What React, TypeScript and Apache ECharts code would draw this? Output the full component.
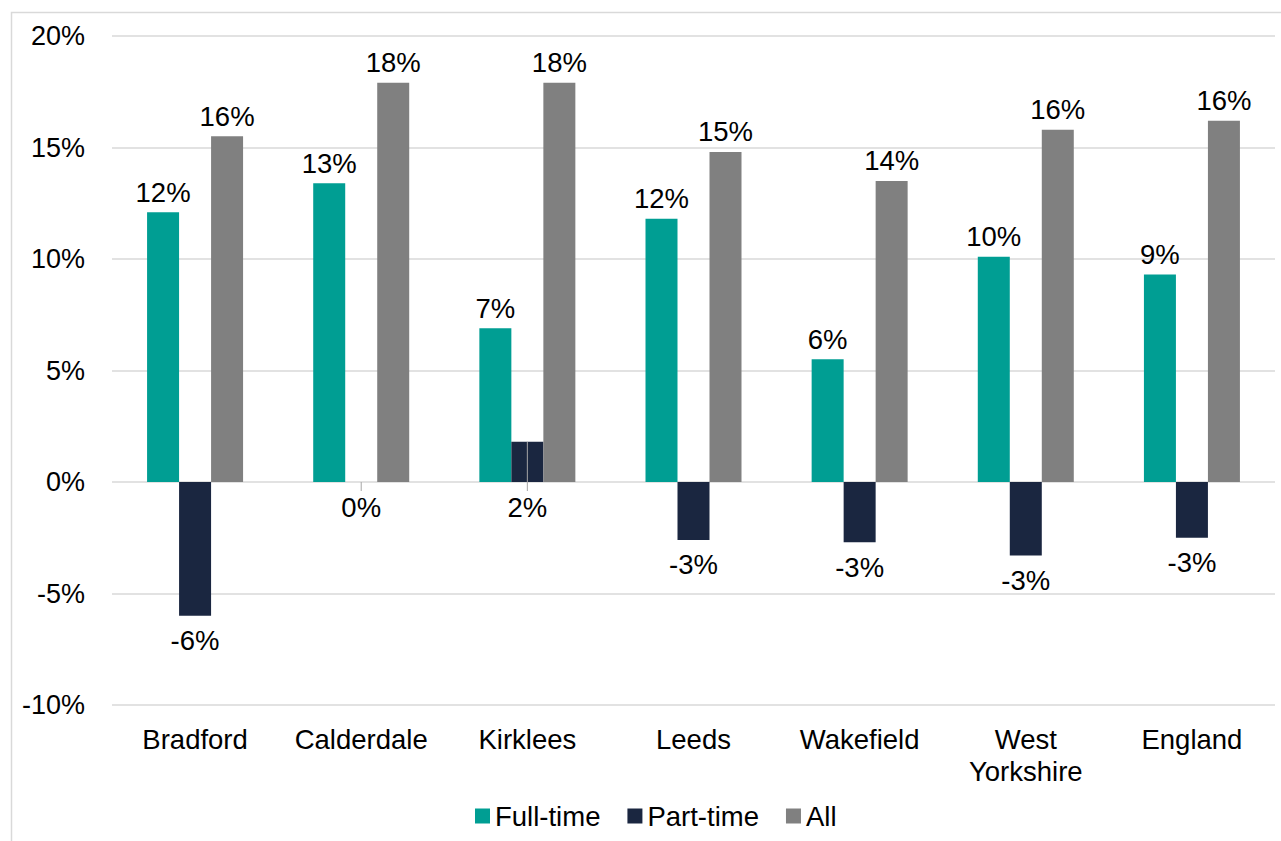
import React, { useEffect, useRef } from "react";
import * as echarts from "echarts";

const categories = ["Bradford", "Calderdale", "Kirklees", "Leeds", "Wakefield", "West\nYorkshire", "England"];
const fullTime = [12.1, 13.4, 6.9, 11.8, 5.5, 10.1, 9.3];
const partTime = [-6.0, 0.0, 1.8, -2.6, -2.7, -3.3, -2.5];
const allStaff = [15.5, 17.9, 17.9, 14.8, 13.5, 15.8, 16.2];
const seriesNames = ["Full-time", "Part-time", "All"];
const colors = ["#009E93", "#1A2640", "#808080"];

const FONT = "Liberation Sans, Arial, sans-serif";
const FS = 27.5;

export default function App() {
  const ref = useRef<HTMLDivElement>(null);
  useEffect(() => {
    if (!ref.current) return;
    const chart = echarts.init(ref.current, undefined, { renderer: "svg" });
    const fmt = (p: any) => {
      const v = p.value as number;
      return `${Math.sign(v) * Math.round(Math.abs(v))}%`;
    };
    const mkSeries = (name: string, data: number[], color: string, pos: string, dist: number) => ({
      name,
      type: "bar",
      data,
      barWidth: 32,
      barGap: "0%",
      itemStyle: { color },
      label: {
        show: true,
        position: pos,
        distance: dist,
        formatter: fmt,
        fontSize: FS,
        fontFamily: FONT,
        color: "#000",
      },
    });
    chart.setOption({
      animation: false,
      textStyle: { fontFamily: FONT },
      color: colors,
      legend: {
        bottom: 6,
        left: 470,
        itemWidth: 15,
        itemHeight: 15,
        itemGap: 27,
        icon: "rect",
        textStyle: { fontSize: FS, fontFamily: FONT, color: "#000" },
        data: seriesNames,
      },
      grid: { left: 112, right: 6, top: 36, bottom: 136 },
      xAxis: {
        type: "category",
        data: categories,
        axisLine: { show: false },
        axisTick: { show: false },
        axisLabel: {
          fontSize: FS,
          fontFamily: FONT,
          color: "#000",
          margin: 18,
          lineHeight: 32,
          interval: 0,
        },
      },
      yAxis: {
        type: "value",
        min: -10,
        max: 20,
        interval: 5,
        axisLabel: {
          formatter: (v: number) => `${v}%`,
          fontSize: 27,
          fontFamily: FONT,
          color: "#000",
          margin: 27,
        },
        splitLine: { lineStyle: { color: "#D9D9D9", width: 1.5 } },
        axisLine: { show: false },
        axisTick: { show: false },
      },
      series: [
        mkSeries(seriesNames[0], fullTime, colors[0], "top", 6),
        mkSeries(seriesNames[1], partTime, colors[1], "bottom", 11),
        mkSeries(seriesNames[2], allStaff, colors[2], "top", 6),
      ],
    });
    // leader ticks for small positive/zero part-time labels, positioned through the axis scale
    const leaders: any[] = [];
    partTime.forEach((v, i) => {
      if (v >= 0) {
        const top = chart.convertToPixel({ seriesIndex: 1 }, [i, v]) as number[];
        const zero = chart.convertToPixel({ seriesIndex: 1 }, [i, 0]) as number[];
        leaders.push({
          type: "line",
          shape: { x1: top[0], y1: top[1], x2: top[0], y2: zero[1] + 9 },
          style: { stroke: "#A6A6A6", lineWidth: 1 },
          silent: true,
          z: 100,
        });
      }
    });
    chart.setOption({
      graphic: [
        {
          type: "rect",
          shape: { x: 11.5, y: 12.5, width: 1290, height: 850 },
          style: { fill: "none", stroke: "#D9D9D9", lineWidth: 1.5 },
          silent: true,
        },
        ...leaders,
      ],
    });
    return () => chart.dispose();
  }, []);
  return (
    <div
      ref={ref}
      style={{ position: "fixed", left: 0, top: 0, width: 1281, height: 841, background: "#fff" }}
    />
  );
}
